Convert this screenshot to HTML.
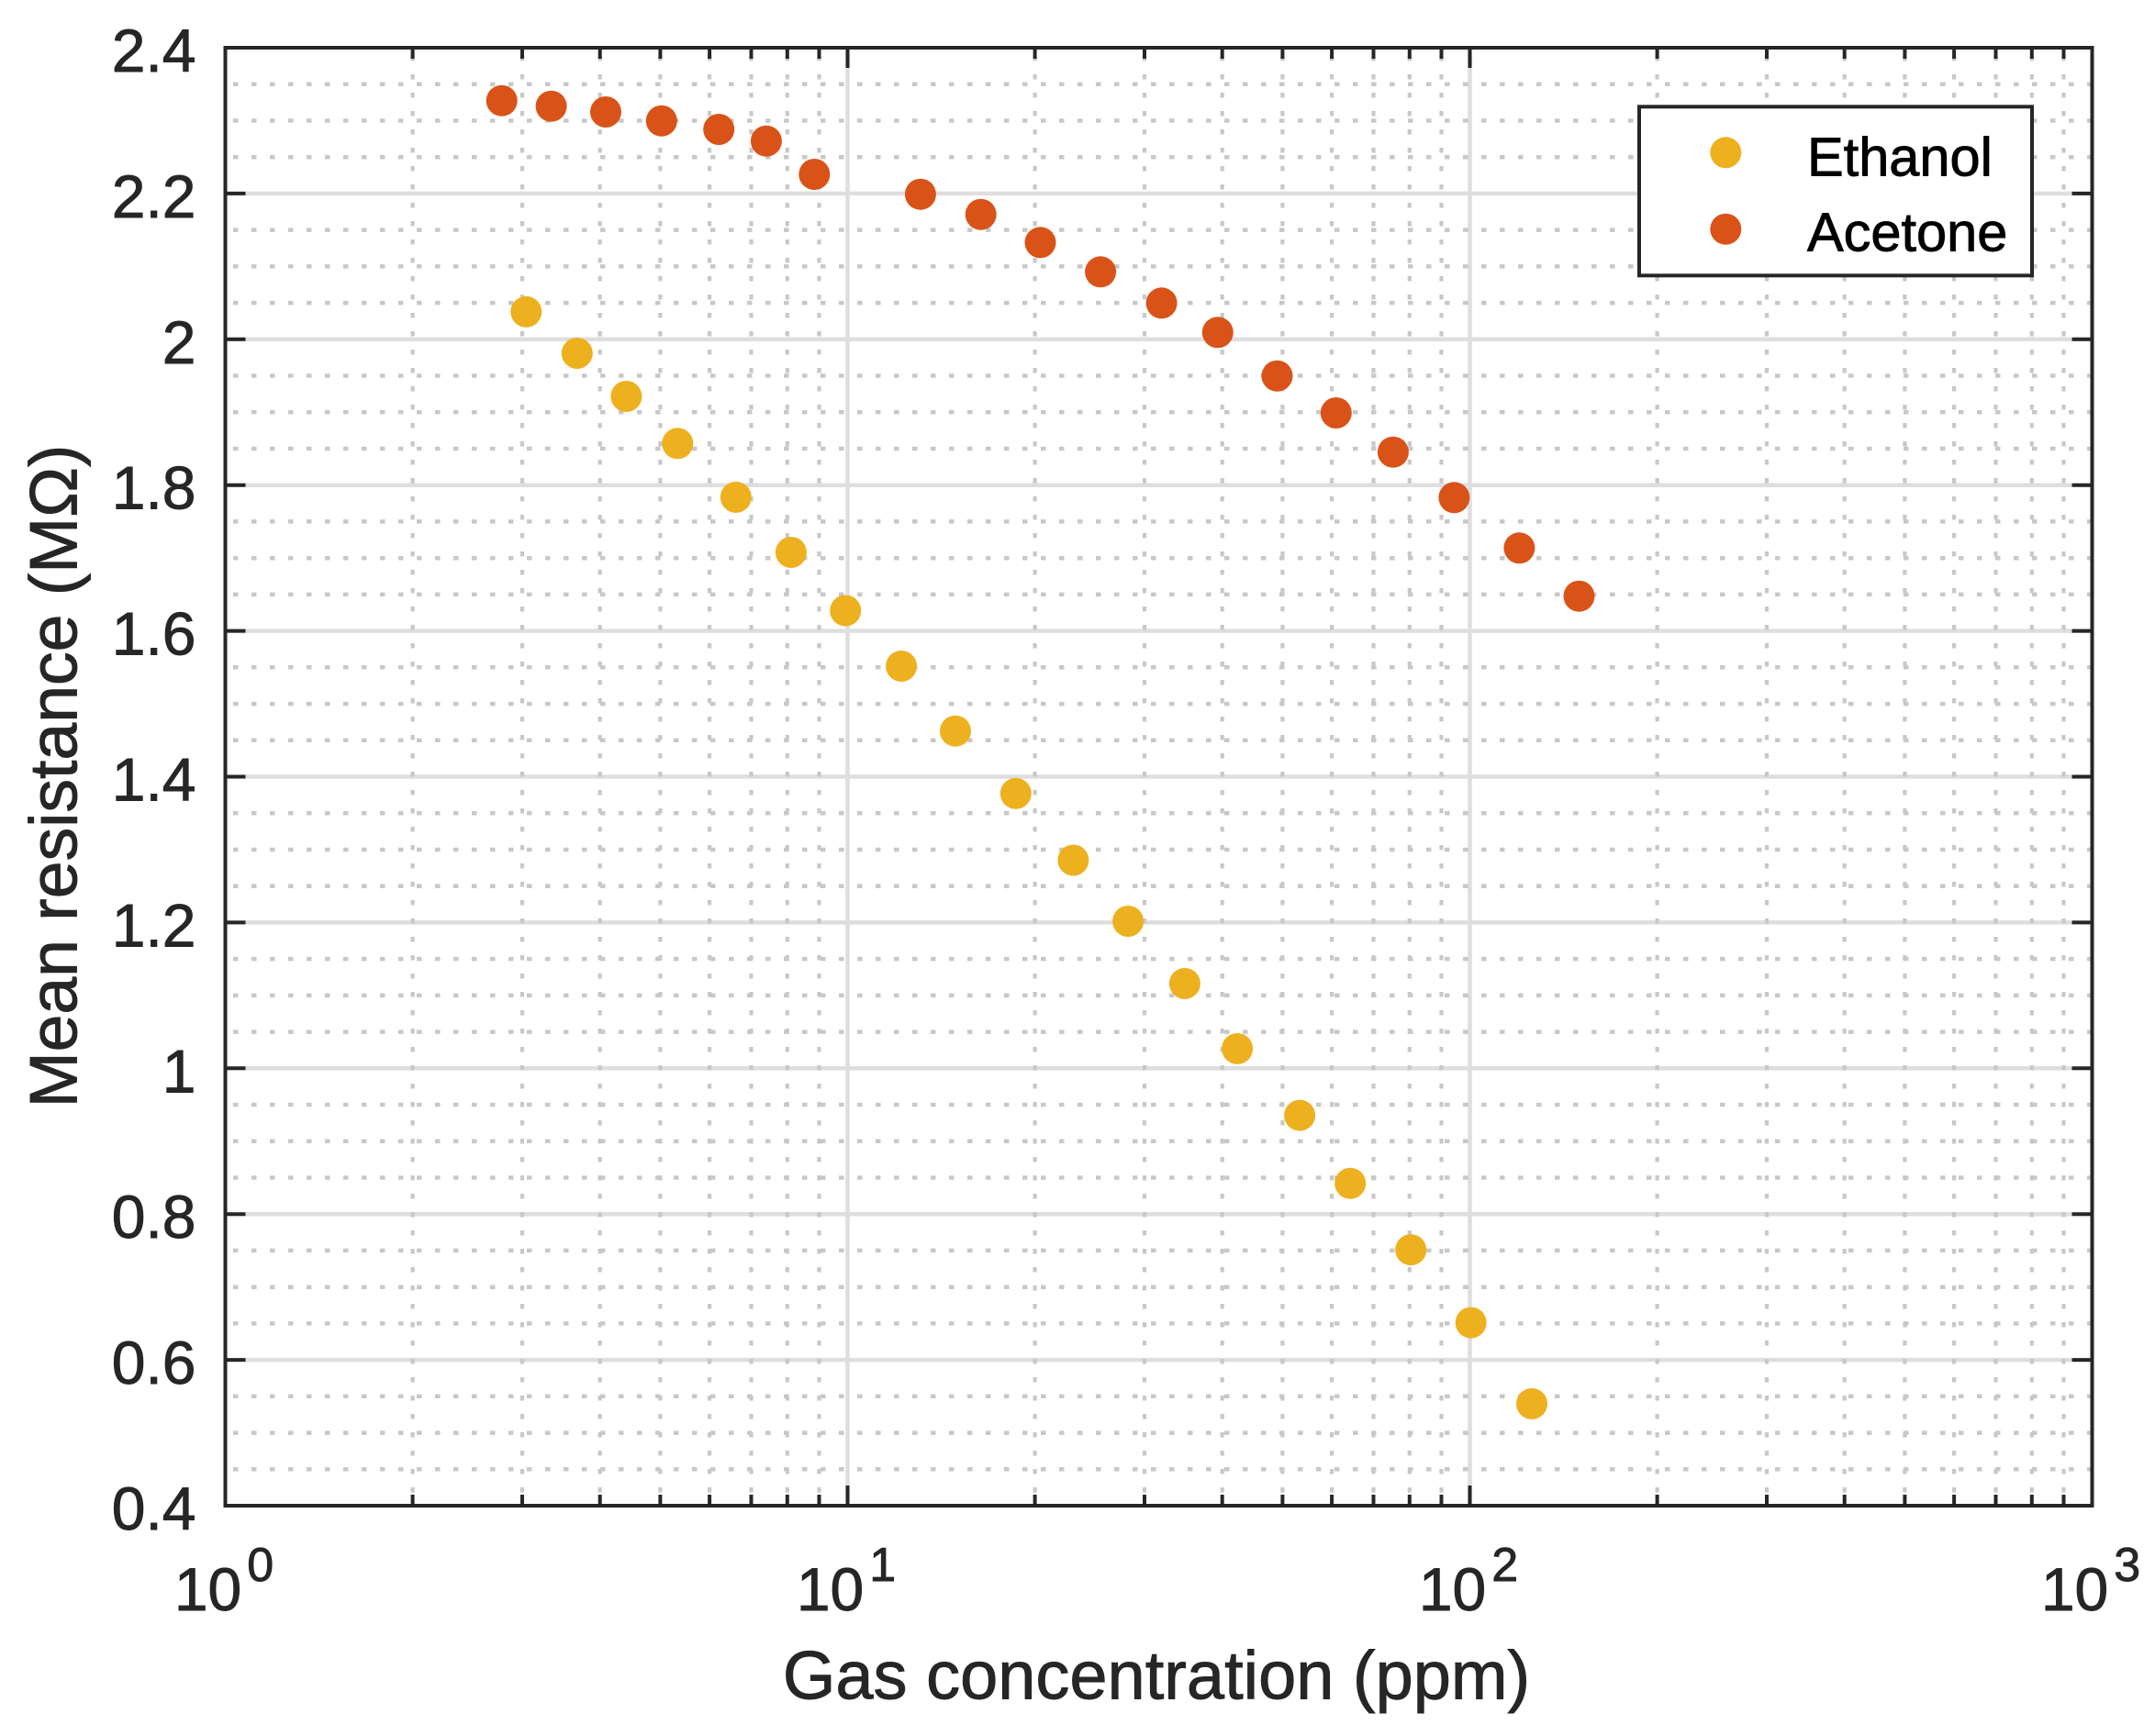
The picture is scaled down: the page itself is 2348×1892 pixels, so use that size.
<!DOCTYPE html>
<html>
<head>
<meta charset="utf-8">
<style>
  html, body { margin: 0; padding: 0; background: #ffffff; }
  svg { display: block; }
  text { font-family: "Liberation Sans", Arial, Helvetica, sans-serif; }
</style>
</head>
<body>
<svg width="2348" height="1892" viewBox="0 0 2348 1892" xmlns="http://www.w3.org/2000/svg">
  <rect x="0" y="0" width="2348" height="1892" fill="#ffffff"/>
  <rect x="245.5" y="52" width="2034" height="1589" fill="#ffffff"/>

  <!-- major grid -->
  <path fill="none" stroke="#dedede" stroke-width="4.5" d="
    M245.5 1482.1 H2279.5 M245.5 1323.2 H2279.5 M245.5 1164.3 H2279.5
    M245.5 1005.4 H2279.5 M245.5 846.5 H2279.5 M245.5 687.6 H2279.5
    M245.5 528.7 H2279.5 M245.5 369.8 H2279.5 M245.5 210.9 H2279.5
    M923.5 52 V1641 M1601.5 52 V1641"/>

  <!-- minor horizontal grid (dotted) -->
  <path fill="none" stroke="#c8c8c8" stroke-width="4.5" stroke-dasharray="5.5 14.5" stroke-dashoffset="11.5" d="
    M245.5 91.7 H2279.5 M245.5 131.5 H2279.5 M245.5 171.2 H2279.5
    M245.5 250.6 H2279.5 M245.5 290.4 H2279.5 M245.5 330.1 H2279.5
    M245.5 409.5 H2279.5 M245.5 449.3 H2279.5 M245.5 489.0 H2279.5
    M245.5 568.4 H2279.5 M245.5 608.2 H2279.5 M245.5 647.9 H2279.5
    M245.5 727.3 H2279.5 M245.5 767.1 H2279.5 M245.5 806.8 H2279.5
    M245.5 886.2 H2279.5 M245.5 926.0 H2279.5 M245.5 965.7 H2279.5
    M245.5 1045.1 H2279.5 M245.5 1084.9 H2279.5 M245.5 1124.6 H2279.5
    M245.5 1204.0 H2279.5 M245.5 1243.8 H2279.5 M245.5 1283.5 H2279.5
    M245.5 1362.9 H2279.5 M245.5 1402.7 H2279.5 M245.5 1442.4 H2279.5
    M245.5 1521.8 H2279.5 M245.5 1561.6 H2279.5 M245.5 1601.3 H2279.5"/>

  <!-- minor vertical grid (dotted) -->
  <path fill="none" stroke="#c8c8c8" stroke-width="4.2" stroke-dasharray="5.5 14.5" stroke-dashoffset="11" d="
    M449.6 52 V1641 M569.0 52 V1641 M653.7 52 V1641 M719.4 52 V1641
    M773.1 52 V1641 M818.5 52 V1641 M857.8 52 V1641 M892.5 52 V1641
    M1127.6 52 V1641 M1247.0 52 V1641 M1331.7 52 V1641 M1397.4 52 V1641
    M1451.1 52 V1641 M1496.5 52 V1641 M1535.8 52 V1641 M1570.5 52 V1641
    M1805.6 52 V1641 M1925.0 52 V1641 M2009.7 52 V1641 M2075.4 52 V1641
    M2129.1 52 V1641 M2174.5 52 V1641 M2213.8 52 V1641 M2248.5 52 V1641"/>

  <!-- Acetone -->
  <g fill="#D95319">
    <circle cx="546.7" cy="109.7" r="17"/>
    <circle cx="600.6" cy="115.7" r="17"/>
    <circle cx="660.0" cy="122.0" r="17"/>
    <circle cx="720.8" cy="131.7" r="17"/>
    <circle cx="783.2" cy="141.0" r="17"/>
    <circle cx="834.9" cy="153.7" r="17"/>
    <circle cx="887.3" cy="190.0" r="17"/>
    <circle cx="1002.9" cy="211.7" r="17"/>
    <circle cx="1068.7" cy="233.7" r="17"/>
    <circle cx="1133.5" cy="264.3" r="17"/>
    <circle cx="1199.1" cy="296.3" r="17"/>
    <circle cx="1265.6" cy="330.3" r="17"/>
    <circle cx="1326.8" cy="362.3" r="17"/>
    <circle cx="1391.5" cy="409.7" r="17"/>
    <circle cx="1455.8" cy="450.0" r="17"/>
    <circle cx="1517.9" cy="492.7" r="17"/>
    <circle cx="1584.4" cy="542.3" r="17"/>
    <circle cx="1655.4" cy="597.3" r="17"/>
    <circle cx="1720.5" cy="649.7" r="17"/>
  </g>

  <!-- Ethanol -->
  <g fill="#EDB120">
    <circle cx="573.3" cy="339.8" r="17"/>
    <circle cx="628.8" cy="385.0" r="17"/>
    <circle cx="682.4" cy="432.0" r="17"/>
    <circle cx="738.3" cy="483.3" r="17"/>
    <circle cx="801.8" cy="541.9" r="17"/>
    <circle cx="861.9" cy="602.0" r="17"/>
    <circle cx="921.2" cy="665.5" r="17"/>
    <circle cx="982.1" cy="726.0" r="17"/>
    <circle cx="1041.0" cy="796.7" r="17"/>
    <circle cx="1106.8" cy="864.8" r="17"/>
    <circle cx="1169.4" cy="937.5" r="17"/>
    <circle cx="1229.1" cy="1004.0" r="17"/>
    <circle cx="1290.9" cy="1071.9" r="17"/>
    <circle cx="1348.1" cy="1142.9" r="17"/>
    <circle cx="1416.1" cy="1215.6" r="17"/>
    <circle cx="1471.2" cy="1289.7" r="17"/>
    <circle cx="1537.2" cy="1362.1" r="17"/>
    <circle cx="1602.7" cy="1441.5" r="17"/>
    <circle cx="1669.0" cy="1529.9" r="17"/>
  </g>

  <!-- ticks -->
  <path fill="none" stroke="#262626" stroke-width="4" d="
    M923.5 1641 V1619 M1601.5 1641 V1619
    M923.5 52 V74 M1601.5 52 V74
    M449.6 1641 V1629 M569.0 1641 V1629 M653.7 1641 V1629 M719.4 1641 V1629
    M773.1 1641 V1629 M818.5 1641 V1629 M857.8 1641 V1629 M892.5 1641 V1629
    M1127.6 1641 V1629 M1247.0 1641 V1629 M1331.7 1641 V1629 M1397.4 1641 V1629
    M1451.1 1641 V1629 M1496.5 1641 V1629 M1535.8 1641 V1629 M1570.5 1641 V1629
    M1805.6 1641 V1629 M1925.0 1641 V1629 M2009.7 1641 V1629 M2075.4 1641 V1629
    M2129.1 1641 V1629 M2174.5 1641 V1629 M2213.8 1641 V1629 M2248.5 1641 V1629
    M449.6 52 V64 M569.0 52 V64 M653.7 52 V64 M719.4 52 V64
    M773.1 52 V64 M818.5 52 V64 M857.8 52 V64 M892.5 52 V64
    M1127.6 52 V64 M1247.0 52 V64 M1331.7 52 V64 M1397.4 52 V64
    M1451.1 52 V64 M1496.5 52 V64 M1535.8 52 V64 M1570.5 52 V64
    M1805.6 52 V64 M1925.0 52 V64 M2009.7 52 V64 M2075.4 52 V64
    M2129.1 52 V64 M2174.5 52 V64 M2213.8 52 V64 M2248.5 52 V64
    M245.5 1482.1 H267.5 M245.5 1323.2 H267.5 M245.5 1164.3 H267.5
    M245.5 1005.4 H267.5 M245.5 846.5 H267.5 M245.5 687.6 H267.5
    M245.5 528.7 H267.5 M245.5 369.8 H267.5 M245.5 210.9 H267.5
    M2279.5 1482.1 H2257.5 M2279.5 1323.2 H2257.5 M2279.5 1164.3 H2257.5
    M2279.5 1005.4 H2257.5 M2279.5 846.5 H2257.5 M2279.5 687.6 H2257.5
    M2279.5 528.7 H2257.5 M2279.5 369.8 H2257.5 M2279.5 210.9 H2257.5"/>

  <!-- axes box -->
  <rect x="245.5" y="52" width="2034" height="1589" fill="none" stroke="#262626" stroke-width="4"/>

  <!-- legend -->
  <rect x="1786" y="116.3" width="428" height="184" fill="#ffffff" stroke="#262626" stroke-width="4"/>
  <circle cx="1880.3" cy="166.3" r="17" fill="#EDB120"/>
  <circle cx="1880.3" cy="249.7" r="17" fill="#D95319"/>
  <text x="1969" y="191.7" font-size="59.5" fill="#000000" stroke="#000000" stroke-width="0.9">Ethanol</text>
  <text x="1969" y="273.3" font-size="59.5" fill="#000000" stroke="#000000" stroke-width="0.9">Acetone</text>

  <!-- y tick labels -->
  <g font-size="66" fill="#262626" stroke="#262626" stroke-width="0.9" text-anchor="end">
    <text x="213.5" y="1667">0.4</text>
    <text x="213.5" y="1508.1">0.6</text>
    <text x="213.5" y="1349.2">0.8</text>
    <text x="213.5" y="1190.3">1</text>
    <text x="213.5" y="1031.4">1.2</text>
    <text x="213.5" y="872.5">1.4</text>
    <text x="213.5" y="713.6">1.6</text>
    <text x="213.5" y="554.7">1.8</text>
    <text x="213.5" y="395.8">2</text>
    <text x="213.5" y="236.9">2.2</text>
    <text x="213.5" y="78">2.4</text>
  </g>

  <!-- x tick labels -->
  <g font-size="66" fill="#262626" stroke="#262626" stroke-width="0.9" text-anchor="middle">
    <text x="244" y="1755">10<tspan dx="6" dy="-32" font-size="52">0</tspan></text>
    <text x="922" y="1755">10<tspan dx="6" dy="-32" font-size="52">1</tspan></text>
    <text x="1600" y="1755">10<tspan dx="6" dy="-32" font-size="52">2</tspan></text>
    <text x="2278" y="1755">10<tspan dx="6" dy="-32" font-size="52">3</tspan></text>
  </g>

  <!-- axis labels -->
  <text x="1260" y="1851.7" font-size="74" fill="#262626" stroke="#262626" stroke-width="0.9" text-anchor="middle">Gas concentration (ppm)</text>
  <text transform="translate(83.5,846) rotate(-90)" font-size="73.3" fill="#262626" stroke="#262626" stroke-width="0.9" text-anchor="middle">Mean resistance (MΩ)</text>
</svg>
</body>
</html>
